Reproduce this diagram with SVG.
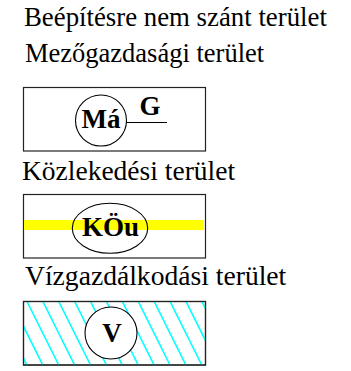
<svg xmlns="http://www.w3.org/2000/svg" width="351" height="371" viewBox="0 0 351 371">
<style>
.t{fill:#000}
.b{font-weight:bold;font-size:27px;text-anchor:middle;fill:#000}
.box{fill:#fff;stroke:#222;stroke-width:1.2}
.sym{fill:#fff;stroke:#000;stroke-width:1.1}
.hatch{stroke:#00FFFF;stroke-width:1.6}
</style>
<defs>
<clipPath id="c3"><rect x="23.5" y="301.5" width="182" height="63.5"/></clipPath>
</defs>
<rect width="351" height="371" fill="#fff"/>
<g font-family="Liberation Serif, 'Times New Roman', serif">
<g id="title"><text class="t" x="24" y="26" font-size="26.8">Beépítésre nem szánt terület</text></g>
<g id="mezo">
<text class="t" x="25" y="62" font-size="26.5">Mezőgazdasági terület</text>
<rect class="box" x="23.5" y="87.5" width="182" height="63.5"/>
<circle class="sym" cx="101" cy="120.5" r="25.5"/>
<text class="b" x="101" y="128" font-size="28">Má</text>
<text class="b" x="150" y="114.5">G</text>
</g>
<g id="kozl">
<text class="t" x="22" y="180" font-size="27.5">Közlekedési terület</text>
<rect class="box" x="23.5" y="194.5" width="182" height="63.5"/>
<rect x="24" y="220" width="180" height="10" fill="#FFFF00"/>
<ellipse cx="110" cy="228.3" rx="37.7" ry="25" fill="none" stroke="#000" stroke-width="1.1"/>
<text class="b" x="110.5" y="236">KÖu</text>
</g>
<g id="viz">
<text class="t" x="25" y="285" font-size="27.6">Vízgazdálkodási terület</text>
<rect class="box" x="23.5" y="301.5" width="182" height="63.5"/>
<g clip-path="url(#c3)" class="hatch">
<line x1="-21" y1="301" x2="11" y2="365"/>
<line x1="-5.1" y1="301" x2="26.9" y2="365"/>
<line x1="10.8" y1="301" x2="42.8" y2="365"/>
<line x1="26.7" y1="301" x2="58.7" y2="365"/>
<line x1="42.6" y1="301" x2="74.6" y2="365"/>
<line x1="58.5" y1="301" x2="90.5" y2="365"/>
<line x1="74.4" y1="301" x2="106.4" y2="365"/>
<line x1="90.3" y1="301" x2="122.3" y2="365"/>
<line x1="106.2" y1="301" x2="138.2" y2="365"/>
<line x1="122.1" y1="301" x2="154.1" y2="365"/>
<line x1="138" y1="301" x2="170" y2="365"/>
<line x1="153.9" y1="301" x2="185.9" y2="365"/>
<line x1="169.8" y1="301" x2="201.8" y2="365"/>
<line x1="185.7" y1="301" x2="217.7" y2="365"/>
<line x1="201.6" y1="301" x2="233.6" y2="365"/>
</g>
<rect x="23.5" y="301.5" width="182" height="63.5" fill="none" stroke="#222" stroke-width="1.2"/>
<circle class="sym" cx="111" cy="333" r="26"/>
<text class="b" x="112" y="341.5" font-size="28">V</text>
</g>
</g>
<g id="connectors">
<line x1="126.5" y1="122.5" x2="167" y2="122.5" stroke="#000" stroke-width="1.1"/>
</g>
</svg>
